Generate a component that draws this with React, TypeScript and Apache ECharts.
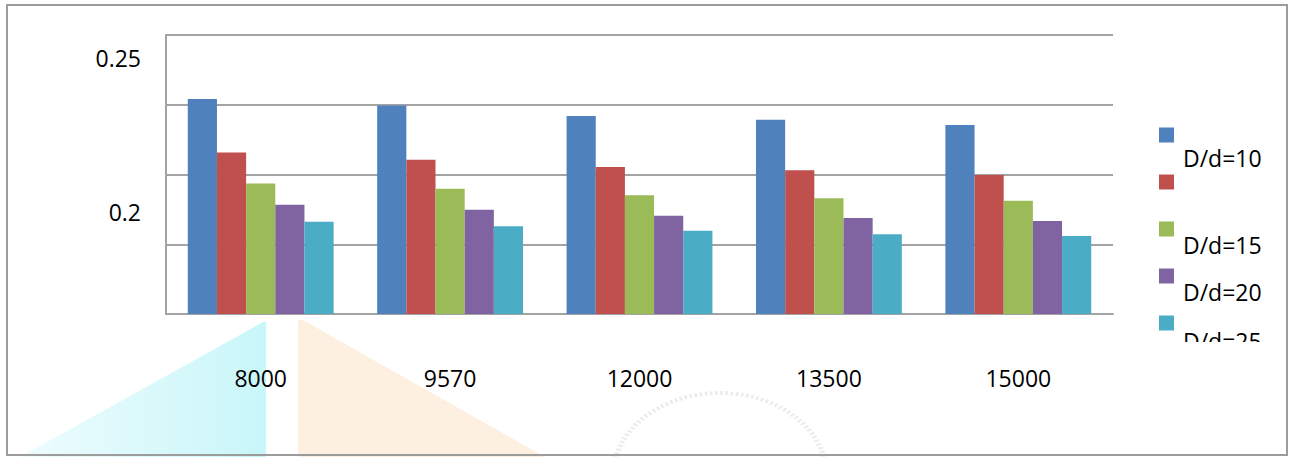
import React, { useEffect, useRef } from "react";
import * as echarts from "echarts";

// Flow rates on the category axis
const categories = ["8000", "9570", "12000", "13500", "15000"];

// One series per D/d ratio
const seriesNames = ["D/d=5", "D/d=10", "D/d=15", "D/d=20", "D/d=25"];
const dd5 = [0.2366, 0.2345, 0.2311, 0.2299, 0.2282];
const dd10 = [0.2193, 0.217, 0.2146, 0.2136, 0.212];
const dd15 = [0.2093, 0.2076, 0.2055, 0.2045, 0.2037];
const dd20 = [0.2024, 0.2008, 0.1989, 0.1981, 0.1972];
const dd25 = [0.1969, 0.1955, 0.194, 0.1929, 0.1923];

// Value axis
const yMin = 0.1671;
const yMax = 0.2573;
const yTickLabels = [0.2, 0.25];

const colors = ["#4f81bd", "#c0504d", "#9bbb59", "#8064a2", "#4bacc6"];
const FONT = "'Open Sans', 'DejaVu Sans', sans-serif";
const GRID_GRAY = "#a3a3a3";

export default function App() {
  const ref = useRef<HTMLDivElement>(null);

  useEffect(() => {
    if (!ref.current) return;
    const chart = echarts.init(ref.current, undefined, { renderer: "svg" });

    const values = [dd5, dd10, dd15, dd20, dd25];

    // Vertical offset of each legend caption relative to its swatch;
    // every caption box keeps the same total height so the rows stay even.
    const captionShift = [0, -24, 16, 16, 18];
    const rich: Record<string, object> = {};
    captionShift.forEach((s, i) => {
      rich["c" + i] = {
        fontFamily: FONT,
        fontSize: 23,
        lineHeight: 24,
        color: "#000",
        padding: [30 + s, 0, 30 - s, 4],
      };
    });

    chart.setOption({
      animation: false,
      backgroundColor: "#ffffff",
      color: colors,
      grid: { left: 166, right: 180, top: 35, bottom: 143, containLabel: false },
      legend: {
        orient: "vertical",
        left: 1159,
        top: 93.5,
        padding: 0,
        itemWidth: 15,
        itemHeight: 15,
        itemGap: -36,
        icon: "rect",
        selectedMode: false,
        data: seriesNames,
        textStyle: { fontFamily: FONT, fontSize: 23, color: "#000", rich },
        formatter: (name: string) => {
          const i = seriesNames.indexOf(name);
          return "{c" + i + "|" + (i === 0 ? " " : name) + "}";
        },
      },
      xAxis: {
        type: "category",
        data: categories,
        axisTick: { show: false },
        axisLine: { lineStyle: { color: GRID_GRAY, width: 2 } },
        axisLabel: {
          margin: 52,
          fontFamily: FONT,
          fontSize: 23,
          color: "#000",
        },
      },
      yAxis: [
        {
          type: "value",
          min: yMin,
          max: yMax,
          axisLine: { show: true, lineStyle: { color: GRID_GRAY, width: 2 } },
          axisTick: { show: false },
          splitLine: { show: false },
          axisLabel: {
            customValues: yTickLabels,
            margin: 25,
            fontFamily: FONT,
            fontSize: 23,
            color: "#000",
            formatter: (v: number) => String(v),
          },
        },
        {
          type: "value",
          min: 0,
          max: 4,
          interval: 1,
          position: "right",
          axisLine: { show: false },
          axisTick: { show: false },
          axisLabel: { show: false },
          splitLine: { show: true, lineStyle: { color: GRID_GRAY, width: 2 } },
        },
      ],
      series: seriesNames.map((name, i) => ({
        name,
        type: "bar",
        yAxisIndex: 0,
        data: values[i],
        barGap: 0,
        barCategoryGap: "23%",
        itemStyle: { color: colors[i] },
      })),
      graphic: [
        // faint logo watermark in the lower area
        {
          type: "polygon",
          z: 0,
          shape: { points: [[20, 457], [263, 322], [266, 322], [266, 457]] },
          style: {
            fill: new echarts.graphic.LinearGradient(0, 0, 1, 0, [
              { offset: 0, color: "rgba(205,246,249,0.35)" },
              { offset: 1, color: "rgba(200,246,249,1)" },
            ]),
          },
        },
        {
          type: "polygon",
          z: 0,
          shape: { points: [[298, 457], [298, 320], [303, 320], [545, 457]] },
          style: { fill: "rgba(253,238,222,0.9)" },
        },
        {
          type: "arc",
          z: 0,
          shape: { cx: 720, cy: 475, r: 82, startAngle: Math.PI * 1.05, endAngle: Math.PI * 1.95 },
          scaleX: 1.3,
          originX: 720,
          originY: 475,
          style: { stroke: "#ececec", lineWidth: 4, lineDash: [2, 2], fill: "none" },
        },
        // the last legend caption is cut off at the legend's lower edge
        {
          type: "rect",
          z: 100,
          shape: { x: 1176, y: 342, width: 108, height: 30 },
          style: { fill: "#ffffff" },
        },
        // outer frame
        {
          type: "rect",
          z: 100,
          shape: { x: 7, y: 5, width: 1280, height: 450 },
          style: { fill: "none", stroke: "#9c9c9c", lineWidth: 2 },
        },
      ],
    });

    return () => chart.dispose();
  }, []);

  return (
    <div
      ref={ref}
      style={{ position: "absolute", left: 0, top: 0, width: 1293, height: 457 }}
    />
  );
}
